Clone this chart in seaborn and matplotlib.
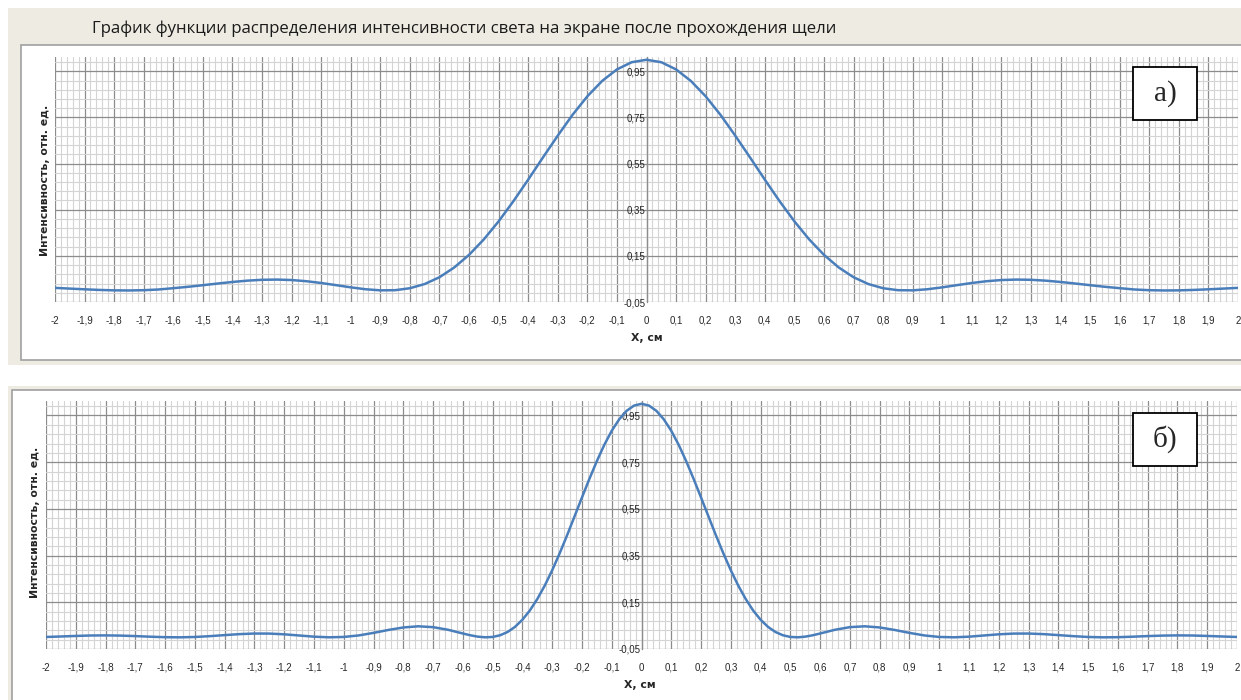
import numpy as np
import pandas as pd
import seaborn as sns
import matplotlib
matplotlib.use("Agg")
import matplotlib.pyplot as plt
from matplotlib.patches import Rectangle
from matplotlib.ticker import MultipleLocator, FixedLocator, FuncFormatter

# x, см (шаг 0,05)
x_a = [-2.0, -1.95, -1.9, -1.85, -1.8, -1.75, -1.7, -1.65, -1.6, -1.55,
       -1.5, -1.45, -1.4, -1.35, -1.3, -1.25, -1.2, -1.15, -1.1, -1.05,
       -1.0, -0.95, -0.9, -0.85, -0.8, -0.75, -0.7, -0.65, -0.6, -0.55,
       -0.5, -0.45, -0.4, -0.35, -0.3, -0.25, -0.2, -0.15, -0.1, -0.05,
       0.0, 0.05, 0.1, 0.15, 0.2, 0.25, 0.3, 0.35, 0.4, 0.45,
       0.5, 0.55, 0.6, 0.65, 0.7, 0.75, 0.8, 0.85, 0.9, 0.95,
       1.0, 1.05, 1.1, 1.15, 1.2, 1.25, 1.3, 1.35, 1.4, 1.45,
       1.5, 1.55, 1.6, 1.65, 1.7, 1.75, 1.8, 1.85, 1.9, 1.95, 2.0]

# график а) - широкий максимум
int_a = [0.0112, 0.0081, 0.0050, 0.0023, 0.0005, 0.0000, 0.0012, 0.0042, 0.0099, 0.0159,
         0.0228, 0.0300, 0.0368, 0.0425, 0.0462, 0.0472, 0.0452, 0.0401, 0.0324, 0.0231,
         0.0135, 0.0053, 0.0005, 0.0012, 0.0097, 0.0279, 0.0574, 0.0997, 0.1544, 0.2214,
         0.2997, 0.3870, 0.4805, 0.5768, 0.6712, 0.7615, 0.8416, 0.9082, 0.9582, 0.9894,
         1.0000,
         0.9894, 0.9582, 0.9082, 0.8416, 0.7615, 0.6712, 0.5768, 0.4805, 0.3870, 0.2997,
         0.2214, 0.1544, 0.0997, 0.0574, 0.0279, 0.0097, 0.0012, 0.0005, 0.0053, 0.0135,
         0.0231, 0.0324, 0.0401, 0.0452, 0.0472, 0.0462, 0.0425, 0.0368, 0.0300, 0.0228,
         0.0159, 0.0099, 0.0042, 0.0012, 0.0000, 0.0005, 0.0023, 0.0050, 0.0081, 0.0112]

# график б) - узкий максимум (в центре шаг 0,025)
x_b = [-2.0, -1.95, -1.9, -1.85, -1.8, -1.75, -1.7, -1.65, -1.6, -1.55,
       -1.5, -1.45, -1.4, -1.35, -1.3, -1.25, -1.2, -1.15, -1.1, -1.05,
       -1.0, -0.95, -0.9, -0.85, -0.8, -0.75, -0.7, -0.65, -0.6, -0.575,
       -0.55, -0.525, -0.5, -0.475, -0.45, -0.425, -0.4, -0.375, -0.35, -0.325,
       -0.3, -0.275, -0.25, -0.225, -0.2, -0.175, -0.15, -0.125, -0.1, -0.075,
       -0.05, -0.025, 0.0, 0.025, 0.05, 0.075, 0.1, 0.125, 0.15, 0.175,
       0.2, 0.225, 0.25, 0.275, 0.3, 0.325, 0.35, 0.375, 0.4, 0.425,
       0.45, 0.475, 0.5, 0.525, 0.55, 0.575, 0.6, 0.65, 0.7, 0.75,
       0.8, 0.85, 0.9, 0.95, 1.0, 1.05, 1.1, 1.15, 1.2, 1.25,
       1.3, 1.35, 1.4, 1.45, 1.5, 1.55, 1.6, 1.65, 1.7, 1.75,
       1.8, 1.85, 1.9, 1.95, 2.0]

int_b = [0.0015, 0.0036, 0.0059, 0.0078, 0.0083, 0.0074, 0.0053, 0.0027, 0.0006, 0.0000,
         0.0015, 0.0050, 0.0095, 0.0137, 0.0162, 0.0160, 0.0129, 0.0079, 0.0028, 0.0001,
         0.0016, 0.0081, 0.0190, 0.0316, 0.0422, 0.0472, 0.0436, 0.0324, 0.0164, 0.0088,
         0.0029, 0.0001, 0.0016, 0.0088, 0.0227, 0.0446, 0.0753, 0.1149, 0.1640, 0.2214,
         0.2870, 0.3593, 0.4367, 0.5175, 0.5987, 0.6785, 0.7544, 0.8241, 0.8843, 0.9334,
         0.9699, 0.9924, 1.0000, 0.9924, 0.9699, 0.9334, 0.8843, 0.8241, 0.7544, 0.6785,
         0.5987, 0.5175, 0.4367, 0.3593, 0.2870, 0.2214, 0.1640, 0.1149, 0.0753, 0.0446,
         0.0227, 0.0088, 0.0016, 0.0001, 0.0029, 0.0088, 0.0164, 0.0324, 0.0436, 0.0472,
         0.0422, 0.0316, 0.0190, 0.0081, 0.0016, 0.0001, 0.0028, 0.0079, 0.0129, 0.0160,
         0.0162, 0.0137, 0.0095, 0.0050, 0.0015, 0.0000, 0.0006, 0.0027, 0.0053, 0.0074,
         0.0083, 0.0078, 0.0059, 0.0036, 0.0015]

title = "График функции распределения интенсивности света на экране после прохождения щели"
panel_labels = ["а)", "б)"]
y_ticks = [-0.05, 0.15, 0.35, 0.55, 0.75, 0.95]

df_a = pd.DataFrame({"x": x_a, "I": int_a})
df_b = pd.DataFrame({"x": x_b, "I": int_b})

sns.set_style("white")
plt.rcParams['font.family'] = ['Liberation Sans', 'DejaVu Sans']
plt.rcParams['axes.unicode_minus'] = False

W, H = 1241, 700
fig = plt.figure(figsize=(W / 100, H / 100), dpi=100)
fig.patch.set_facecolor("white")

BEIGE = "#EEECE2"


def px_rect(x0, y0, x1, y1, **kw):
    r = Rectangle((x0 / W, 1 - y1 / H), (x1 - x0) / W, (y1 - y0) / H,
                  transform=fig.transFigure, **kw)
    fig.add_artist(r)
    return r


# фон и рамки областей диаграмм
px_rect(8, 8, 1245, 365, facecolor=BEIGE, edgecolor="none", zorder=-10)
px_rect(21, 45, 1250, 360, facecolor="white", edgecolor="#A0A0A0", lw=1.2, zorder=-9)
px_rect(8, 386, 1245, 705, facecolor=BEIGE, edgecolor="none", zorder=-10)
px_rect(12, 390, 1250, 710, facecolor="white", edgecolor="#A0A0A0", lw=1.2, zorder=-9)

fig.text(92 / W, 1 - 29 / H, title, fontsize=12.1, ha="left", va="center",
         color="#1A1A1A", family=['Open Sans', 'DejaVu Sans'])

comma = FuncFormatter(lambda v, p: ("%g" % round(v, 2)).replace(".", ","))
comma2 = FuncFormatter(lambda v, p: ("%.2f" % v).replace(".", ","))

panels = [
    # data, ax box (px), ylabel pos, xlabel pos, label box
    (df_a, (55, 57, 1238, 302), (45, 180), (647, 338), (1133, 67, 1197, 120)),
    (df_b, (46, 401, 1237, 649), (35, 522), (640, 685), (1133, 413, 1197, 466)),
]

for (data, box, ylp, xlp, lbox), lab in zip(panels, panel_labels):
    x0, y0, x1, y1 = box
    ax = fig.add_axes([x0 / W, 1 - y1 / H, (x1 - x0) / W, (y1 - y0) / H])
    ax.set_facecolor("white")
    sns.lineplot(data=data, x="x", y="I", ax=ax, color="#4A7EBB", lw=1.8, zorder=5)
    ax.set_xlim(-2, 2)
    ax.set_ylim(-0.05, 1.012)
    ax.xaxis.set_major_locator(MultipleLocator(0.1))
    ax.xaxis.set_minor_locator(MultipleLocator(0.02))
    ax.set_yticks(y_ticks)
    ax.yaxis.set_minor_locator(FixedLocator([-0.05 + 0.04 * k for k in range(27)]))
    ax.xaxis.set_major_formatter(comma)
    ax.yaxis.set_major_formatter(comma2)
    ax.grid(which="minor", color="#D4D4D4", lw=0.8)
    ax.grid(which="major", color="#8C8C8C", lw=0.9)
    ax.set_axisbelow(True)
    for s in ["top", "right", "bottom"]:
        ax.spines[s].set_visible(False)
    ax.spines["left"].set_position(("data", 0))
    ax.spines["left"].set_color("#8C8C8C")
    ax.spines["left"].set_linewidth(0.9)
    ax.tick_params(which="both", length=0)
    ax.tick_params(axis="x", labelsize=7, pad=10)
    ax.tick_params(axis="y", labelsize=7, pad=1)
    ax.set_xlabel("")
    ax.set_ylabel("")
    fig.text(ylp[0] / W, 1 - ylp[1] / H, "Интенсивность, отн. ед.", rotation=90,
             ha="center", va="center", fontsize=7.8, fontweight="bold",
             family=['DejaVu Sans'])
    fig.text(xlp[0] / W, 1 - xlp[1] / H, "X, см", ha="center", va="center",
             fontsize=7.8, fontweight="bold", family=['DejaVu Sans'])
    bx0, by0, bx1, by1 = lbox
    px_rect(bx0, by0, bx1, by1, facecolor="white", edgecolor="black", lw=1.3, zorder=20)
    fig.text((bx0 + bx1) / 2 / W, 1 - (by0 + by1) / 2 / H, lab, ha="center",
             va="center", fontsize=21, family=['Liberation Serif', 'DejaVu Serif'],
             zorder=21)

fig.savefig("out.png", dpi=100)
